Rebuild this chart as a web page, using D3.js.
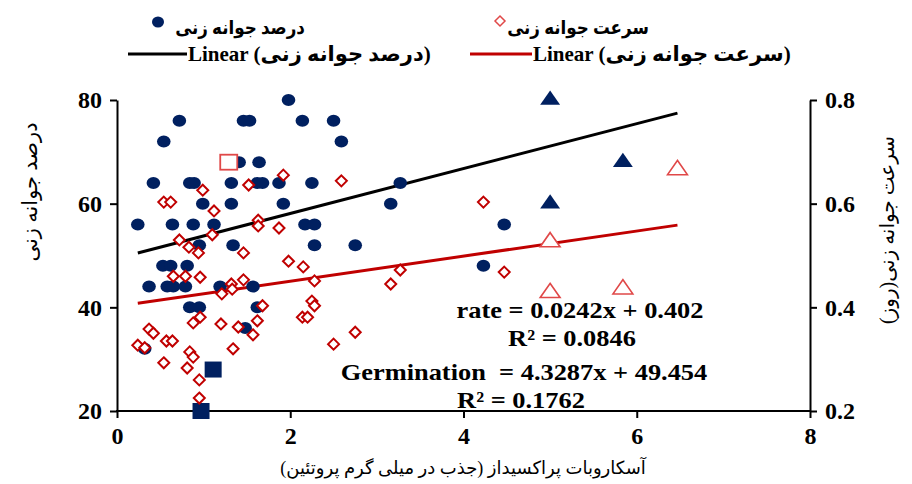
<!DOCTYPE html>
<html><head><meta charset="utf-8">
<script src="https://cdn.jsdelivr.net/npm/d3@7/dist/d3.min.js"></script>
<style>body{margin:0;background:#fff}svg{display:block}text{white-space:pre}</style>
</head><body><svg id="c" width="912" height="484"></svg>
<script>
// ---- data ----
const germX = [1.98,0.72,1.46,1.53,2.14,2.50,0.54,2.59,1.41,1.64,0.42,0.84,0.89,1.32,1.62,1.68,1.87,2.25,3.27,0.99,1.32,1.92,3.16,0.24,0.64,0.88,1.12,2.17,2.28,4.47,0.95,1.34,2.28,2.75,0.53,0.62,0.81,4.23,0.37,0.58,0.65,0.79,1.19,1.57,0.84,0.95,1.62,1.48,0.32];
const germY = [80,76,76,76,76,76,72,72,68,68,64,64,64,64,64,64,64,64,64,60,60,60,60,56,56,56,56,56,56,56,52,52,52,52,48,48,48,48,44,44,44,44,44,44,40,40,40,36,32];
const rateX = [1.92,2.59,0.99,1.52,0.54,0.62,1.12,1.63,1.63,1.87,0.72,0.83,1.10,0.94,1.46,1.98,2.15,0.65,0.79,0.96,1.46,2.28,1.32,1.33,1.21,1.68,2.25,2.28,0.96,0.88,1.20,1.40,1.62,2.14,2.20,0.37,0.42,2.75,0.24,0.32,0.57,0.64,1.57,2.50,1.34,0.84,0.88,0.54,0.81,0.95,0.95,4.23,3.27,3.16,4.47];
const rateY = [0.655,0.644,0.626,0.636,0.603,0.603,0.586,0.568,0.557,0.553,0.530,0.516,0.540,0.505,0.505,0.489,0.478,0.460,0.460,0.458,0.453,0.451,0.445,0.435,0.426,0.403,0.412,0.403,0.381,0.370,0.368,0.362,0.374,0.381,0.381,0.358,0.350,0.352,0.327,0.322,0.335,0.335,0.347,0.329,0.320,0.314,0.304,0.293,0.283,0.260,0.225,0.603,0.472,0.445,0.468];
const germSquareX = [1.11,0.97], germSquareY = [28,20];
const rateSquareX = [1.29], rateSquareY = [0.68];
const germTriX = [5.0,5.0,5.84], germTriY = [80,60,68];
const rateTriX = [5.0,5.0,5.84,6.47], rateTriY = [0.526,0.428,0.435,0.665];
const germFit = {slope:4.3287, intercept:49.454}, rateFit = {slope:0.0242, intercept:0.402};
const fitRange = [0.24, 6.47];
const xTicks = [0,2,4,6,8], yTicks = [20,40,60,80], y2Ticks = [0.2,0.4,0.6,0.8];
const labels = {
  germ: "درصد جوانه زنی",
  rate: "سرعت جوانه زنی",
  germLin: "Linear (درصد جوانه زنی)",
  rateLin: "Linear (سرعت جوانه زنی)",
  yTitle: "درصد جوانه زنی",
  y2Title: "سرعت جوانه زنی(روز)",
  xTitle: "آسکاروبات پراکسیداز (جذب در میلی گرم پروتئین)",
  eq1: "rate = 0.0242x + 0.402", r1: "R² = 0.0846",
  eq2: "Germination  = 4.3287x + 49.454", r2: "R² = 0.1762"
};
// ---- chart ----
const svg = d3.select("#c");
const L=117, R=810, T=100, B=411;
const x = d3.scaleLinear().domain([0,8]).range([L,R]);
const y = d3.scaleLinear().domain([20,80]).range([B,T]);
const y2 = d3.scaleLinear().domain([0.2,0.8]).range([B,T]);
const NAVY="#002060", RED="#c00000", LRED="#e04848";
const serif="'Liberation Serif','Times New Roman',serif";
const fa="'Liberation Serif','DejaVu Sans',sans-serif";

// axes
const ax = svg.append("g").attr("transform",`translate(0,${B})`).call(d3.axisBottom(x).tickValues(xTicks).tickSize(7).tickSizeOuter(0).tickPadding(9));
const ay = svg.append("g").attr("transform",`translate(${L},0)`).call(d3.axisLeft(y).tickValues(yTicks).tickSize(7).tickSizeOuter(0).tickPadding(8));
const ay2 = svg.append("g").attr("transform",`translate(${R},0)`).call(d3.axisRight(y2).tickValues(y2Ticks).tickFormat(d3.format(".1f")).tickSize(7).tickSizeOuter(0).tickPadding(8));
[ax,ay,ay2].forEach(g=>{
  g.selectAll("path,line").attr("stroke","#000").attr("stroke-width",2);
  g.selectAll("text").attr("font-family",serif).attr("font-weight","bold").attr("font-size",24).attr("fill","#000");
});
ax.select(".domain").attr("d",`M${L-1},0H${R+1}`);

// trend lines
const line = (fit,ys)=>d3.line().x(d=>x(d)).y(d=>ys(fit.slope*d+fit.intercept));
svg.append("path").datum(fitRange).attr("d",line(germFit,y)).attr("stroke","#000").attr("stroke-width",3).attr("fill","none");
svg.append("path").datum(fitRange).attr("d",line(rateFit,y2)).attr("stroke",RED).attr("stroke-width",3).attr("fill","none");

// germination circles
svg.append("g").selectAll("ellipse").data(germX.map((v,i)=>[v,germY[i]])).join("ellipse")
  .attr("cx",d=>x(d[0])).attr("cy",d=>y(d[1])).attr("rx",6.8).attr("ry",6).attr("fill",NAVY);
// germination squares
svg.append("g").selectAll("rect").data(germSquareX.map((v,i)=>[v,germSquareY[i]])).join("rect")
  .attr("x",d=>x(d[0])-8.5).attr("y",d=>y(d[1])-8).attr("width",17).attr("height",16).attr("fill",NAVY);
// germination triangles
const tri = d3.symbol().type(d3.symbolTriangle).size(130);
svg.append("g").selectAll("path").data(germTriX.map((v,i)=>[v,germTriY[i]])).join("path")
  .attr("d",tri).attr("transform",d=>`translate(${x(d[0])},${y(d[1])}) scale(1.15,0.95)`).attr("fill",NAVY);
// rate diamonds
svg.append("g").selectAll("path").data(rateX.map((v,i)=>[v,rateY[i]])).join("path")
  .attr("d","M0,-5.5L5.5,0L0,5.5L-5.5,0Z").attr("transform",d=>`translate(${x(d[0])},${y2(d[1])})`)
  .attr("fill","#fff").attr("stroke",RED).attr("stroke-width",2);
// rate square
svg.append("g").selectAll("rect").data(rateSquareX.map((v,i)=>[v,rateSquareY[i]])).join("rect")
  .attr("x",d=>x(d[0])-8.5).attr("y",d=>y2(d[1])-7.5).attr("width",17).attr("height",15)
  .attr("fill","#fff").attr("stroke",LRED).attr("stroke-width",1.8);
// rate triangles
svg.append("g").selectAll("path").data(rateTriX.map((v,i)=>[v,rateTriY[i]])).join("path")
  .attr("d",tri).attr("transform",d=>`translate(${x(d[0])},${y2(d[1])}) scale(1.15,0.95)`)
  .attr("fill","#fff").attr("stroke",LRED).attr("stroke-width",1.5);

// equations
const eq = svg.append("g").attr("font-family",serif).attr("font-weight","bold").attr("font-size",24).attr("fill","#000").attr("text-anchor","middle");
[[labels.eq1,580,318],[labels.r1,572,346],[labels.eq2,524,380],[labels.r2,521,408]].forEach(([t,cx,cy])=>{
  eq.append("text").attr("transform",`translate(${cx},${cy}) scale(1.1,1)`).text(t);
});

// axis titles
svg.append("text").attr("transform","translate(37,192) rotate(-90)").attr("text-anchor","middle")
  .attr("font-family",fa).attr("font-size",21).text(labels.yTitle);
svg.append("text").attr("transform","translate(894,230) rotate(-90)").attr("text-anchor","middle")
  .attr("font-family",fa).attr("font-size",20).text(labels.y2Title);
svg.append("text").attr("x",463).attr("y",474).attr("text-anchor","middle")
  .attr("font-family",fa).attr("font-size",18).text(labels.xTitle);

// legend
const lg = svg.append("g").attr("font-family",fa).attr("font-weight","bold").attr("fill","#000");
lg.append("ellipse").attr("cx",158).attr("cy",22).attr("rx",6).attr("ry",5.5).attr("fill",NAVY);
lg.append("text").attr("transform","translate(240,34) scale(0.88,1)").attr("text-anchor","middle").attr("font-size",19).text(labels.germ);
lg.append("path").attr("d","M0,-5L5,0L0,5L-5,0Z").attr("transform","translate(500,21)").attr("fill","#fff").attr("stroke",LRED).attr("stroke-width",1.5);
lg.append("text").attr("transform","translate(578,34) scale(0.88,1)").attr("text-anchor","middle").attr("font-size",19).text(labels.rate);
lg.append("line").attr("x1",128).attr("x2",187).attr("y1",54).attr("y2",54).attr("stroke","#000").attr("stroke-width",3);
lg.append("text").attr("x",188).attr("y",61).attr("font-size",21).attr("direction","ltr").text(labels.germLin);
lg.append("line").attr("x1",470).attr("x2",532).attr("y1",54).attr("y2",54).attr("stroke",RED).attr("stroke-width",3);
lg.append("text").attr("x",533).attr("y",61).attr("font-size",21).attr("direction","ltr").text(labels.rateLin);
</script></body></html>
